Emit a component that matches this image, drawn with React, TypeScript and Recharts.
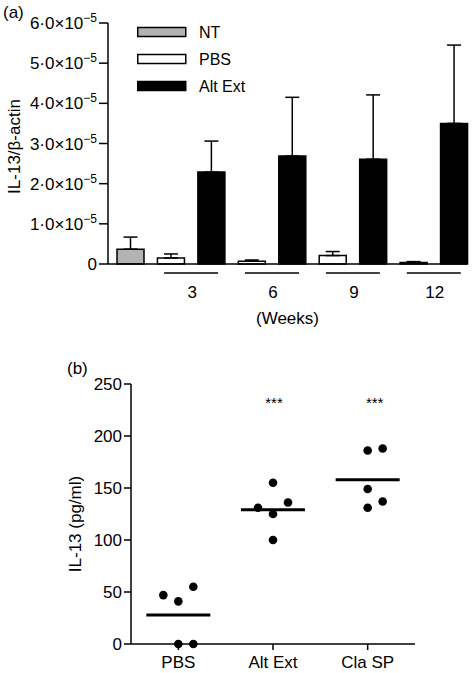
import { Bar, BarChart, Cell, ErrorBar, Legend, ReferenceDot, Scatter, ScatterChart, XAxis, YAxis } from 'recharts';

// (a) IL-13 / β-actin mRNA, values in units of 10⁻⁵
const barGroups = ['NT', 'PBS', 'Alt Ext', 'PBS', 'Alt Ext', 'PBS', 'Alt Ext', 'PBS', 'Alt Ext'];
const barWeeks = ['', '3', '3', '6', '6', '9', '9', '12', '12'];
const barMeans = [0.37, 0.15, 2.29, 0.07, 2.69, 0.21, 2.61, 0.04, 3.5];
const barErrors = [0.3, 0.1, 0.77, 0.03, 1.46, 0.1, 1.6, 0.02, 1.95];
const yTicksA = [0, 1, 2, 3, 4, 5, 6];
const legendNames = ['NT', 'PBS', 'Alt Ext'];

// (b) IL-13 protein, pg/ml
const dotGroups = ['PBS', 'Alt Ext', 'Cla SP'];
const pbsValues = [47, 41, 55, 0, 0];
const altValues = [155, 131, 136, 125, 100];
const claValues = [186, 188, 149, 137, 131];
const groupMeans = [28, 129, 158];
const significant = ['Alt Ext', 'Cla SP'];
const yTicksB = [0, 50, 100, 150, 200, 250];

// drawing details
const FONT = '"Liberation Sans", Arial, sans-serif';
const fills: Record<string, string> = { NT: '#b3b3b3', PBS: '#ffffff', 'Alt Ext': '#000000' };
const dotCols = [
	[-1, 0, 1, 0, 1],
	[0, -1, 1, 0, 0],
	[0, 1, 0, 1, 0],
];
const JITTER = 15;
const SIG_Y = 231;
const axisStyle = { stroke: '#000', strokeWidth: 1.5 };

const barData = barGroups.map((group, i) => ({
	key: `${group} ${barWeeks[i]}`,
	group,
	week: barWeeks[i],
	mean: barMeans[i],
	err: [0, barErrors[i]],
}));

const valueLists = [pbsValues, altValues, claValues];
const dotData = dotGroups.flatMap((group, g) =>
	valueLists[g].map((value, i) => ({ group, value, col: dotCols[g][i] })),
);
const meanData = dotGroups.map((group, g) => ({ group, value: groupMeans[g] }));

const SciTick = ({ x, y, payload }: any) => {
	const n = Math.round(payload.value);
	return (
		<text x={x} y={y} dy={6} textAnchor="end" fontSize={17} fill="#000">
			{n === 0 ? '0' : `${n}·0×10`}
			{n !== 0 && (
				<tspan fontSize={12} dy={-7}>
					−5
				</tspan>
			)}
		</text>
	);
};

const WeekTick = ({ x, y, index }: any) => {
	const d = barData[index];
	if (!d || d.group !== 'Alt Ext') return null;
	const mid = x - 20;
	return (
		<g>
			<line x1={mid - 27} x2={mid + 27} y1={y + 9} y2={y + 9} stroke="#000" strokeWidth={1.5} />
			<text x={mid + 1} y={y + 34} textAnchor="middle" fontSize={17} fill="#000">
				{d.week}
			</text>
		</g>
	);
};

const AxisTitle = ({ viewBox, title, shiftX, shiftY }: any) => {
	const cx = viewBox.x + shiftX;
	const cy = viewBox.y + viewBox.height / 2 + shiftY;
	return (
		<text
			x={cx}
			y={cy}
			transform={`rotate(-90 ${cx} ${cy})`}
			textAnchor="middle"
			dominantBaseline="central"
			fontSize={17}
			fill="#000"
		>
			{title}
		</text>
	);
};

const BarLegend = () => (
	<svg width={140} height={86}>
		{legendNames.map((name, i) => (
			<g key={name}>
				<rect x={0.75} y={i * 27 + 5.5} width={48} height={9} fill={fills[name]} stroke="#000" strokeWidth={1.5} />
				<text x={62} y={i * 27 + 16} fontSize={16} fill="#000" fontFamily={FONT}>
					{name}
				</text>
			</g>
		))}
	</svg>
);

const Stars = ({ viewBox, shift }: any) => (
	<text x={viewBox.x + shift} y={viewBox.y + 4} textAnchor="middle" fontSize={15} fill="#000">
		***
	</text>
);

const MeanLine = ({ cx, cy }: any) => (
	<line x1={cx - 32} x2={cx + 32} y1={cy} y2={cy} stroke="#000" strokeWidth={3} />
);

const Dot = ({ cx, cy, payload }: any) => <circle cx={cx + payload.col * JITTER} cy={cy} r={4.3} fill="#000" />;

export default function App() {
	return (
		<div style={{ position: 'absolute', left: 0, top: 0, width: 475, height: 673, fontFamily: FONT, background: '#fff' }}>
			<div style={{ position: 'absolute', left: 3, top: 3, fontSize: 17 }}>(a)</div>
			<div style={{ position: 'absolute', left: 67, top: 359, fontSize: 17 }}>(b)</div>

			<div style={{ position: 'absolute', left: 0, top: 0 }}>
				<BarChart width={475} height={330} data={barData} margin={{ top: 23, right: 8, left: 0, bottom: 0 }}>
					<XAxis
						dataKey="key"
						height={66}
						padding={{ left: 2, right: -7 }}
						axisLine={axisStyle}
						tickLine={false}
						tickSize={0}
						tickMargin={0}
						interval={0}
						tick={<WeekTick />}
						label={{ value: '(Weeks)', position: 'insideBottom', offset: 6, fill: '#000', fontSize: 17 }}
					/>
					<YAxis
						width={108}
						domain={[0, 6]}
						ticks={yTicksA}
						interval={0}
						tickSize={9}
						tickMargin={2}
						axisLine={axisStyle}
						tickLine={axisStyle}
						tick={<SciTick />}
						label={<AxisTitle title="IL-13/β-actin" shiftX={14} shiftY={3} />}
					/>
					<Legend
						layout="vertical"
						align="center"
						verticalAlign="middle"
						content={<BarLegend />}
						wrapperStyle={{ left: 137, top: 22, width: 140, height: 86 }}
					/>
					<Bar dataKey="mean" barSize={27} stroke="#000" strokeWidth={1.5} isAnimationActive={false}>
						{barData.map(d => (
							<Cell key={d.key} fill={fills[d.group]} />
						))}
						<ErrorBar dataKey="err" width={7} stroke="#000" strokeWidth={1.5} direction="y" />
					</Bar>
				</BarChart>
			</div>

			<div style={{ position: 'absolute', left: 0, top: 330 }}>
				<ScatterChart width={475} height={343} margin={{ top: 54, right: 60, left: 0, bottom: 0 }}>
					<XAxis
						dataKey="group"
						type="category"
						allowDuplicatedCategory={false}
						height={29}
						axisLine={axisStyle}
						tickLine={axisStyle}
						tickSize={6}
						tickMargin={6}
						tick={{ fill: '#000', fontSize: 17 }}
					/>
					<YAxis
						dataKey="value"
						type="number"
						width={131}
						domain={[0, 250]}
						ticks={yTicksB}
						interval={0}
						tickSize={7}
						tickMargin={2}
						axisLine={axisStyle}
						tickLine={axisStyle}
						tick={{ fill: '#000', fontSize: 17 }}
						label={<AxisTitle title="IL-13 (pg/ml)" shiftX={75} shiftY={10} />}
					/>
					<Scatter data={dotData} shape={<Dot />} isAnimationActive={false} />
					<Scatter data={meanData} shape={<MeanLine />} isAnimationActive={false} />
					{significant.map(g => (
						<ReferenceDot
							key={g}
							x={g}
							y={SIG_Y}
							r={0}
							stroke="none"
							fill="none"
							label={<Stars shift={g === 'Cla SP' ? 7 : 1} />}
						/>
					))}
				</ScatterChart>
			</div>
		</div>
	);
}
